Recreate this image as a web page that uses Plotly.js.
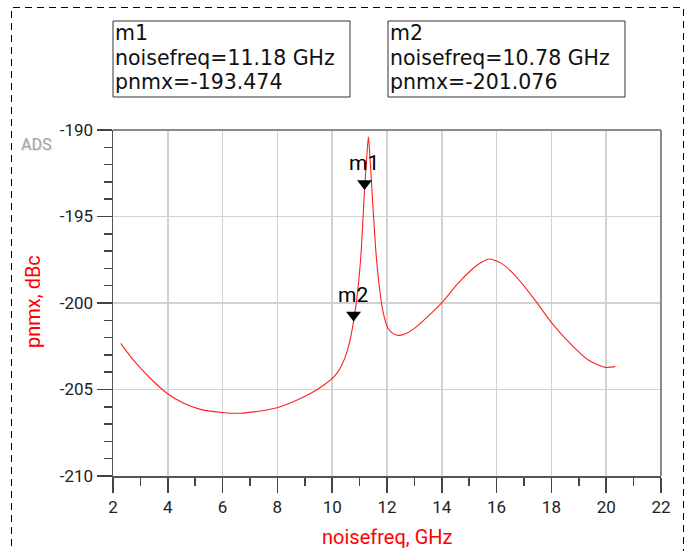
<!DOCTYPE html>
<html>
<head>
<meta charset="utf-8">
<script src="https://cdn.plot.ly/plotly-3.0.1.min.js"></script>
<style>html,body{margin:0;padding:0;background:#fff;}#chart{width:691px;height:551px;}</style>
</head>
<body>
<div id="chart"></div>
<script>
// ---- data ----
const noisefreq = [2.28, 2.74, 3.36, 3.97, 4.58, 5.19, 6.04, 6.65, 7.38, 7.99, 8.60, 9.22, 9.70, 10.07, 10.32, 10.56, 10.78, 10.93, 11.05, 11.18, 11.26, 11.32, 11.38, 11.48, 11.60, 11.72, 11.84, 12.03, 12.25, 12.45, 12.70, 13.00, 13.61, 14.04, 14.59, 15.08, 15.45, 15.75, 16.18, 16.66, 17.40, 18.07, 18.74, 19.35, 19.96, 20.33];
const pnmx = [-202.33, -203.29, -204.35, -205.22, -205.80, -206.15, -206.34, -206.37, -206.24, -206.05, -205.70, -205.22, -204.74, -204.26, -203.68, -202.72, -201.076, -199.3, -197.2, -193.474, -191.6, -190.4, -191.6, -194.24, -197.13, -199.06, -200.40, -201.45, -201.80, -201.87, -201.76, -201.47, -200.60, -199.92, -198.86, -198.09, -197.65, -197.46, -197.71, -198.38, -199.83, -201.27, -202.43, -203.29, -203.72, -203.68];
const markerNames = ["m1", "m2"];
const markerFreq = [11.18, 10.78];
const markerVal = [-193.474, -201.076];
const xTickVals = [2, 4, 6, 8, 10, 12, 14, 16, 18, 20, 22];
const yTickVals = [-210, -205, -200, -195, -190];
const yTickText = ["-210", "-205", "-200", "-195", "-190"];

// ---- layout helpers (pixel -> paper) ----
const L = 113, R = 661, T = 130, B = 476;
const px = v => (v - L) / (R - L);
const py = v => (B - v) / (B - T);
const FONT = "Roboto, 'Liberation Sans', sans-serif";
const BOXFONT = "'DejaVu Sans', Roboto, sans-serif";

const traces = [
  {x: noisefreq, y: pnmx, type: "scatter", mode: "lines",
   line: {color: "#ff2020", width: 1.1, shape: "spline", smoothing: 0.7},
   hoverinfo: "skip", showlegend: false},
  {x: markerFreq, y: markerVal, type: "scatter", mode: "markers",
   marker: {symbol: "triangle-up", size: 13, color: "#000", standoff: 6.5, angle: 180},
   hoverinfo: "skip", showlegend: false, cliponaxis: false}
];

const annotations = [];
// marker labels above the triangles
markerNames.forEach((n, i) => {
  annotations.push({x: markerFreq[i], y: markerVal[i], xref: "x", yref: "y", text: n,
    showarrow: false, yshift: 27, xshift: -1, font: {family: FONT, size: 21, color: "#000"}});
});
// marker readout boxes
const boxes = [{x0: 113, x1: 350}, {x0: 388, x1: 625}];
markerNames.forEach((n, i) => {
  const lines = [n, "noisefreq=" + markerFreq[i].toFixed(2) + " GHz", "pnmx=" + markerVal[i].toFixed(3)];
  const centers = [33.5, 58, 82.3];
  lines.forEach((t, k) => {
    annotations.push({x: px(boxes[i].x0 + 1), y: py(centers[k]), xref: "paper", yref: "paper",
      xanchor: "left", yanchor: "middle", text: t, showarrow: false, borderpad: 0,
      font: {family: BOXFONT, size: 20.5, color: "#111"}});
  });
});
// ADS logo
annotations.push({x: px(19), y: py(145), xref: "paper", yref: "paper", xanchor: "left", yanchor: "middle",
  text: "ADS", showarrow: false,
  font: {family: FONT, size: 16, color: "#a4a4a4", shadow: "1px 1px 1px #dddddd"}});
// axis titles
annotations.push({x: px(387), y: py(537), xref: "paper", yref: "paper", xanchor: "center", yanchor: "middle",
  text: "noisefreq, GHz", showarrow: false, font: {family: FONT, size: 20, color: "#ff0000"}});
annotations.push({x: px(33), y: py(302), xref: "paper", yref: "paper", xanchor: "center", yanchor: "middle",
  text: "pnmx, dBc", textangle: -90, showarrow: false, font: {family: FONT, size: 20, color: "#ff0000"}});

const shapes = [
  // dashed outer frame
  {type: "rect", xref: "paper", yref: "paper", x0: px(11.5), x1: px(683.5), y0: py(580), y1: py(7.5),
   line: {color: "#000", width: 1, dash: "7px,5px"}, layer: "below"},
  // readout boxes
  ...boxes.map(b => ({type: "rect", xref: "paper", yref: "paper", x0: px(b.x0), x1: px(b.x1), y0: py(97), y1: py(21),
   line: {color: "#333", width: 1}})),
  // top & right frame lines
  {type: "line", xref: "paper", yref: "paper", x0: 0, x1: 1, y0: 1, y1: 1, line: {color: "#8c8c8c", width: 2}},
  {type: "line", xref: "paper", yref: "paper", x0: 1, x1: 1, y0: 0, y1: 1, line: {color: "#8c8c8c", width: 2}}
];

const layout = {
  width: 691, height: 551, autosize: false,
  margin: {l: L, r: 691 - R, t: T, b: 551 - B, pad: 0},
  paper_bgcolor: "#fff", plot_bgcolor: "#fff",
  showlegend: false,
  font: {family: FONT, size: 16, color: "#222"},
  xaxis: {range: [2, 22], tickvals: xTickVals, ticks: "outside", ticklen: 15, tickwidth: 1.5, tickcolor: "#444",
    showline: true, linecolor: "#555", linewidth: 1.5, showgrid: true, gridcolor: "#d2d2d2", gridwidth: 1.5,
    zeroline: false, tickfont: {family: FONT, size: 17, color: "#222"},
    minor: {dtick: 1, tick0: 1, ticks: "outside", ticklen: 8, tickcolor: "#444", tickwidth: 1.5, showgrid: false},
    fixedrange: true},
  yaxis: {range: [-210, -190], tickvals: yTickVals, ticktext: yTickText, ticks: "outside", ticklen: 15, tickwidth: 1.5, tickcolor: "#444",
    showline: true, linecolor: "#555", linewidth: 1.5, showgrid: true, gridcolor: "#d2d2d2", gridwidth: 1.5,
    zeroline: false, tickfont: {family: FONT, size: 17, color: "#222"},
    minor: {dtick: 1, tick0: -190, ticks: "outside", ticklen: 8, tickcolor: "#444", tickwidth: 1.5, showgrid: false},
    fixedrange: true},
  annotations: annotations,
  shapes: shapes
};

Plotly.newPlot("chart", traces, layout, {displayModeBar: false, staticPlot: true});
</script>
</body>
</html>
